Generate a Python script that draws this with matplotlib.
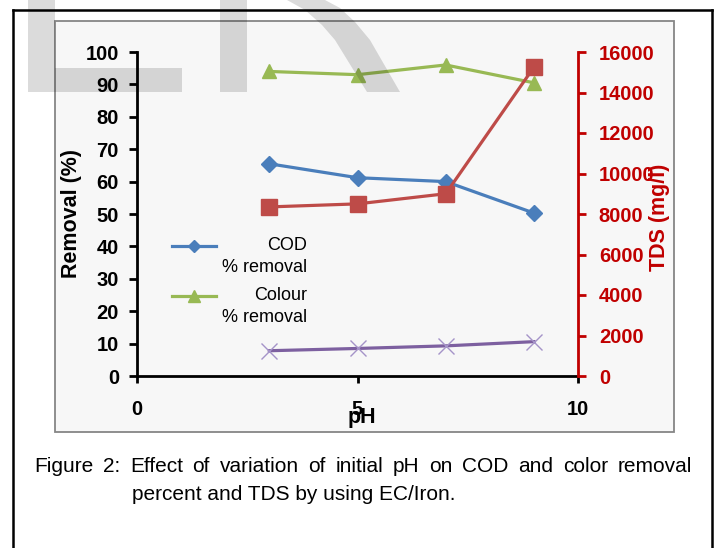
import matplotlib
matplotlib.use("Agg")
import matplotlib.pyplot as plt
from matplotlib.patches import Rectangle, Polygon
from matplotlib.lines import Line2D

plt.rcParams['font.family'] = ['Liberation Sans', 'DejaVu Sans']

# ---- data ----
ph = [3, 5, 7, 9]
cod_removal = [65.5, 61.2, 60.0, 50.3]
colour_removal = [94.0, 93.0, 96.0, 90.5]
tds = [8350, 8500, 9000, 15250]
fourth_series = [7.8, 8.5, 9.3, 10.6]
left_ticks = list(range(0, 101, 10))
right_ticks = list(range(0, 16001, 2000))
x_ticks = [0, 5, 10]
legend_labels = ["COD\n% removal", "Colour\n% removal"]
caption_line1 = "Figure 2: Effect of variation of initial pH on COD and color removal"
caption_line2 = "percent and TDS by using EC/Iron."

W, H = 715, 548
fig = plt.figure(figsize=(W / 100, H / 100), dpi=100)
fig.patch.set_facecolor('white')

def fx(x):
    return x / W

def fy(y):
    return 1 - y / H

# outer frame (left, top, right)
for xs, ys in [([13, 13], [10, H + 5]), ([13, 712], [10, 10]), ([712, 712], [10, H + 5])]:
    fig.add_artist(Line2D([fx(v) for v in xs], [fy(v) for v in ys], color='black', lw=1.8,
                          transform=fig.transFigure, zorder=1))

# chart area box
fig.add_artist(Rectangle((fx(55), fy(432)), fx(674) - fx(55), fy(21) - fy(432),
                         transform=fig.transFigure, facecolor='#f7f7f7', edgecolor='#868686',
                         lw=1.3, zorder=0))

ax = fig.add_axes([fx(137), fy(376), fx(578) - fx(137), fy(52) - fy(376)])
ax.patch.set_visible(False)
ax2 = ax.twinx()
ax2.patch.set_visible(False)

blue = '#4a7ebb'
red = '#be4b48'
green = '#98b954'
purple = '#7d60a0'

ax.plot(ph, cod_removal, color=blue, lw=2.3, marker='D', ms=8, mfc=blue, mec=blue, zorder=3)
ax.plot(ph, colour_removal, color=green, lw=2.3, marker='^', ms=10, mfc=green, mec=green, zorder=3)
ax.plot(ph, fourth_series, color=purple, lw=2.3, marker='x', ms=12, mec='#a593c8', mew=1.0, zorder=3)
ax2.plot(ph, tds, color=red, lw=2.3, marker='s', ms=11, mfc=red, mec=red, zorder=3)

ax.set_xlim(0, 10)
ax.set_ylim(0, 100)
ax2.set_ylim(0, 16000)
ax.set_xticks(x_ticks)
ax.set_yticks(left_ticks)
ax2.set_yticks(right_ticks)

for s in ['top', 'right']:
    ax.spines[s].set_visible(False)
for s in ['top', 'left', 'bottom']:
    ax2.spines[s].set_visible(False)
ax.spines['left'].set_linewidth(2)
ax.spines['bottom'].set_linewidth(2)
ax2.spines['right'].set_linewidth(2)
ax2.spines['right'].set_color('#c00000')

ax.tick_params(axis='y', direction='out', length=6, width=2, pad=7, labelsize=14.5)
ax.tick_params(axis='x', direction='out', length=5, width=2, pad=12, labelsize=14.5)
ax2.tick_params(axis='y', direction='out', length=6, width=2, pad=9, labelsize=14.5,
                colors='#c00000')
for lab in ax.get_xticklabels() + ax.get_yticklabels() + ax2.get_yticklabels():
    lab.set_fontweight('bold')

ax.set_xlabel('pH', fontsize=15.5, fontweight='bold')
ax.xaxis.label.set_va('center')
ax.xaxis.set_label_coords((362 - 137) / 441, (376 - 418) / 324)
ax.set_ylabel('Removal (%)', fontsize=15.5, fontweight='bold')
ax.yaxis.label.set_va('center')
ax.yaxis.set_label_coords((72 - 137) / 441, (376 - 213) / 324)
ax2.set_ylabel('TDS (mg/l)', fontsize=15.5, fontweight='bold', color='#c00000')
ax2.yaxis.label.set_va('center')
ax2.yaxis.set_label_coords((660 - 137) / 441, (376 - 217) / 324)

# manual legend
def leg_entry(y_top, color, marker, ms, label):
    fig.add_artist(Line2D([fx(172), fx(216)], [fy(y_top), fy(y_top)], color=color, lw=2.3,
                          transform=fig.transFigure, zorder=5))
    fig.add_artist(Line2D([fx(194)], [fy(y_top)], color=color, marker=marker, ms=ms,
                          mfc=color, mec=color, transform=fig.transFigure, zorder=5))
    first, second = label.split('\n')
    fig.text(fx(307), fy(y_top), first, ha='right', va='center', fontsize=13, zorder=5)
    fig.text(fx(307), fy(y_top + 21), second, ha='right', va='center', fontsize=13, zorder=5)

leg_entry(246, blue, 'D', 6, legend_labels[0])
leg_entry(296, green, '^', 8, legend_labels[1])

# watermark shapes (semi-transparent gray on top)
wm = dict(transform=fig.transFigure, facecolor='black', alpha=0.14, edgecolor='none', zorder=10)
def poly(pts):
    return Polygon([(fx(x), fy(y)) for x, y in pts], closed=True, **wm)
fig.add_artist(poly([(28, 0), (55, 0), (55, 68), (182, 68), (182, 92), (28, 92)]))
fig.add_artist(poly([(220, 0), (247, 0), (247, 92), (220, 92)]))
fig.add_artist(poly([(287, 0), (305, 10), (322, 25), (335, 40), (367, 92),
                     (400, 92), (370, 40), (355, 22), (340, 8), (325, 0)]))

# caption, line 1 justified between x=34 and x=692
renderer = fig.canvas.get_renderer()
words = caption_line1.split(' ')
texts = [fig.text(0, fy(467), w, fontsize=15, ha='left', va='center') for w in words]
widths = [t.get_window_extent(renderer).width for t in texts]
left, right = 34, 692
gap = (right - left - sum(widths)) / (len(words) - 1)
x = left
for t, w in zip(texts, widths):
    t.set_x(fx(x))
    x += w + gap
fig.text(fx(132), fy(494), caption_line2, fontsize=15, ha='left', va='center')

fig.savefig('out.png', dpi=100)
